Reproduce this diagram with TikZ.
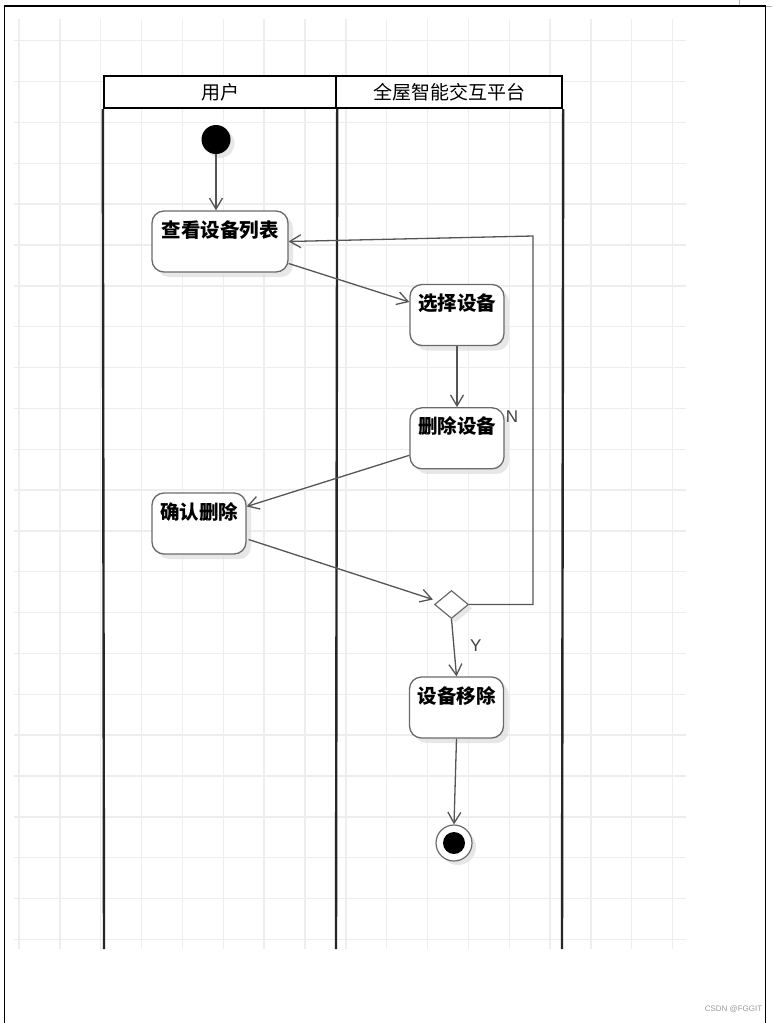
\documentclass[tikz,border=0pt]{standalone}
\usepackage{fontspec}
\usepackage{tikz}
\usetikzlibrary{arrows.meta,positioning,shapes.geometric,shadows,calc}
\newfontfamily\cjk{Noto Sans CJK SC}
\newfontfamily\latinsans{Liberation Sans}
\definecolor{linkgray}{HTML}{555555}
\definecolor{boxgray}{HTML}{6A6A6A}
\definecolor{gridgray}{HTML}{EEEEEE}
\definecolor{shadowgray}{HTML}{DDDDDD}
\definecolor{creditgray}{HTML}{9A9A9A}

\begin{document}
\begin{tikzpicture}[x=1pt,y=-1pt,>={Straight Barb[length=11pt,width=13pt]},
 act/.style={draw=boxgray,fill=white,line width=1.3pt,rounded corners=12pt,minimum width=94pt,inner xsep=4pt,inner ysep=5pt,text height=21pt,text depth=30pt,font=\cjk\bfseries\fontsize{19.5pt}{22pt}\selectfont,drop shadow={shadow xshift=5pt,shadow yshift=-5pt,fill=shadowgray,opacity=.7}},
 lanehead/.style={draw=black,line width=2.4pt,fill=white,minimum height=32pt,inner sep=0pt,font=\cjk\fontsize{19pt}{22pt}\selectfont},
 laneline/.style={draw=black!85,line width=2.4pt},
 startdot/.style={circle,fill=black,minimum size=29pt,inner sep=0pt,drop shadow={shadow xshift=4pt,shadow yshift=-4pt,fill=shadowgray,opacity=.7}},
 enddot/.style={circle,draw=boxgray,fill=white,line width=1.2pt,minimum size=36pt,inner sep=0pt,path picture={\fill[black] (path picture bounding box.center) circle (11pt);},drop shadow={shadow xshift=4pt,shadow yshift=-4pt,fill=shadowgray,opacity=.7}},
 choice/.style={diamond,draw=boxgray,fill=white,line width=1.2pt,minimum width=34pt,minimum height=28pt,aspect=1.2,inner sep=0pt,drop shadow={shadow xshift=4pt,shadow yshift=-4pt,fill=shadowgray,opacity=.7}},
 flow/.style={draw=linkgray,line width=1.3pt,->},
 guard/.style={inner sep=0pt,text=black!75,font=\latinsans\fontsize{17pt}{19pt}\selectfont}]
 \useasboundingbox (0,0) rectangle (774,1023);
 % background grid
 \foreach \i in {0,...,16}
  \draw[gridgray,line width=1.4pt] ({19+40.85*\i},19) -- ({19+40.85*\i},949);
 \foreach \j in {0,...,22}
  \draw[gridgray,line width=1.4pt] (14,{40.7+40.85*\j}) -- (686,{40.7+40.85*\j});
 \draw[black!30,line width=1pt] (739.5,0) -- (739.5,6.5) -- (772,6.5);
 \draw[line width=1.5pt] (4.5,1023) -- (4.5,6) -- (765.5,6) -- (765.5,1023);
 % swimlanes
 \node[lanehead,minimum width=232pt] (userhead) at (220,92) {用户};
 \node[lanehead,minimum width=226pt] (platformhead) at (449,92) {全屋智能交互平台};
 \coordinate (laneend1) at (104,949);
 \coordinate (laneend2) at (336,949);
 \coordinate (laneend3) at (562,949);
 \draw[laneline] (userhead.south west) -- (laneend1);
 \draw[laneline] (userhead.south east) -- (laneend2);
 \draw[laneline] (platformhead.south east) -- (laneend3);
 % activities
 \node[startdot] (start) at (216,139.5) {};
 \node[act,minimum width=136pt] (view) at (220,241.5) {查看设备列表};
 \node[act] (select) at (457,315) {选择设备};
 \node[act,below=61pt of select] (delete) {删除设备};
 \node[act] (confirm) at (199,523.5) {确认删除};
 \node[choice] (dec) at (451.5,604.5) {};
 \node[act] (remove) at (456.5,707.5) {设备移除};
 \node[enddot] (stop) at (454,843) {};
 \coordinate (loopbottom) at (533,604.5);
 \coordinate (looptop) at (533,236);
 % transitions
 \draw[flow] (start) -- (start.south |- view.north);
 \draw[flow] ($(view.east)+(0,22)$) -- ($(select.west)+(0,-13)$);
 \draw[flow] (select) -- (delete);
 \draw[flow] ($(delete.west)+(0,17)$) -- ($(confirm.east)+(0,-17)$);
 \draw[flow] ($(confirm.east)+(2,16)$) -- ($(dec.west)+(-1,-5)$);
 \draw[flow] (dec.east) -- (loopbottom) -- node[guard,pos=0.51,xshift=-21pt] {N} (looptop) -- (view.east);
 \draw[flow] (dec.south) -- node[guard,pos=0.46,xshift=22pt] {Y} (remove.north);
 \draw[flow] (remove.south) -- (stop.north);
 \node[text=creditgray,font=\latinsans\fontsize{8pt}{9pt}\selectfont] (credit) at (733.5,1009) {CSDN @FGGIT};
\end{tikzpicture}
\end{document}
